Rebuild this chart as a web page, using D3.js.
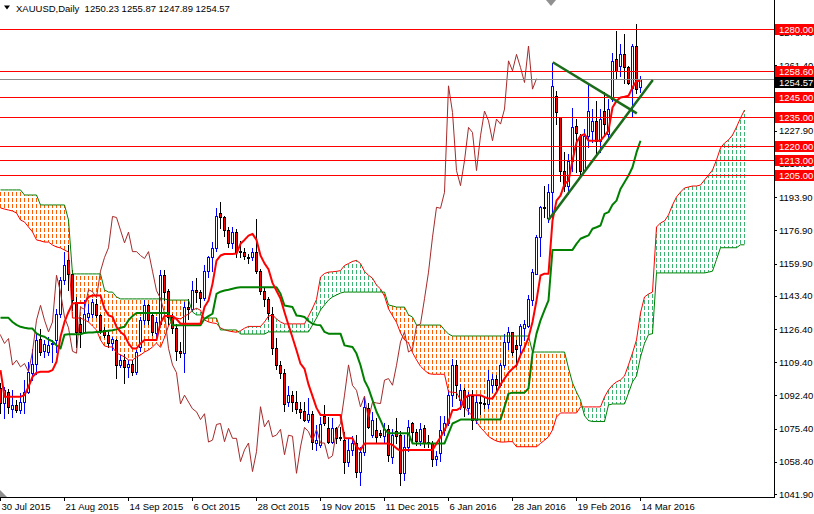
<!DOCTYPE html>
<html><head><meta charset="utf-8">
<script src="https://cdn.jsdelivr.net/npm/d3@7"></script>
<style>
html,body{margin:0;padding:0;background:#fff;}
svg{display:block;font-family:"Liberation Sans",Arial,sans-serif;}
</style></head><body>
<svg id="c" width="814" height="514"></svg>
<script>
// ---------------- data ----------------
const symbolName = "XAUUSD,Daily";
const lastQuote = [1250.23, 1255.87, 1247.89, 1254.57];
const dateTicks = [[0,"30 Jul 2015"],[16,"21 Aug 2015"],[32,"14 Sep 2015"],[48,"6 Oct 2015"],[64,"28 Oct 2015"],[80,"19 Nov 2015"],[96,"11 Dec 2015"],[112,"6 Jan 2016"],[128,"28 Jan 2016"],[144,"19 Feb 2016"],[160,"14 Mar 2016"]];
const priceTicks = [1041.9,1058.4,1075.4,1092.4,1109.4,1126.4,1143.4,1159.9,1176.9,1193.9,1210.9,1227.9,1261.4,1278.4];
const levels = [1280.00,1258.60,1245.00,1235.00,1220.00,1213.00,1205.00];
const bidPrice = 1254.57;

const open = [1096.0,1088.3,1094.0,1085.5,1087.4,1084.9,1089.1,1094.3,1104.0,1108.7,
1121.5,1115.0,1114.7,1118.6,1120.7,1134.3,1151.3,1161.5,1154.7,1140.2,
1129.2,1124.9,1132.6,1134.3,1139.4,1133.4,1125.8,1123.2,1119.0,1120.7,
1107.9,1110.4,1107.0,1108.7,1104.5,1117.0,1130.9,1138.5,1133.4,1124.1,
1129.2,1153.9,1146.1,1132.5,1127.0,1115.0,1114.0,1137.5,1136.5,1146.5,
1145.5,1142.5,1156.0,1163.0,1168.0,1186.0,1183.5,1177.0,1170.5,1176.0,
1166.5,1166.0,1163.5,1163.0,1166.0,1156.0,1146.0,1142.0,1134.0,1116.5,
1108.0,1104.0,1089.0,1092.5,1089.0,1085.5,1084.5,1080.0,1083.0,1068.0,
1067.0,1082.0,1075.5,1068.7,1075.5,1071.3,1069.5,1058.5,1064.5,1067.8,
1053.4,1063.6,1085.7,1072.1,1074.6,1072.9,1071.5,1075.0,1061.0,1074.0,
1072.0,1052.5,1066.0,1078.0,1073.8,1069.0,1075.5,1068.5,1068.0,1060.0,
1063.0,1074.5,1078.0,1092.5,1108.0,1090.0,1095.0,1086.0,1092.0,1080.0,
1089.0,1088.5,1088.0,1097.6,1101.0,1097.6,1108.0,1119.8,1124.9,1118.0,
1118.0,1127.0,1128.0,1141.0,1154.7,1173.4,1188.7,1183.0,1196.4,1245.8,
1234.7,1207.5,1199.8,1212.6,1230.5,1225.3,1207.5,1225.3,1228.0,1233.0,
1222.8,1238.0,1226.2,1244.0,1264.5,1261.1,1267.0,1260.3,1250.0,1271.3,
1250.23];
const high = [1098.5,1096.8,1095.5,1095.1,1090.0,1093.4,1100.2,1109.6,1116.4,1124.1,
1126.6,1120.7,1122.4,1120.7,1136.8,1153.0,1165.8,1169.2,1156.4,1142.8,
1132.6,1141.1,1139.4,1142.0,1142.0,1134.3,1127.5,1124.9,1122.4,1121.5,
1113.0,1113.8,1110.4,1110.4,1115.5,1132.6,1141.1,1139.4,1135.1,1132.6,
1156.4,1156.4,1147.0,1134.0,1129.0,1119.7,1140.0,1142.0,1151.0,1152.5,
1146.5,1159.0,1164.0,1171.0,1188.5,1191.5,1184.5,1178.5,1178.5,1177.5,
1171.5,1168.0,1165.0,1168.0,1182.5,1157.0,1148.0,1143.0,1137.5,1122.0,
1110.0,1106.0,1097.0,1094.5,1094.5,1089.0,1089.0,1091.0,1084.5,1077.0,
1081.5,1087.5,1081.5,1080.6,1076.3,1076.3,1073.8,1070.0,1071.5,1072.1,
1066.1,1091.7,1088.3,1084.0,1080.6,1074.6,1078.0,1077.0,1075.0,1081.0,
1074.0,1072.0,1080.0,1079.0,1075.0,1078.0,1077.0,1072.0,1069.0,1064.0,
1082.0,1082.0,1095.0,1111.0,1110.5,1098.0,1096.0,1094.0,1095.0,1092.0,
1092.0,1091.0,1105.3,1103.6,1103.0,1109.0,1124.0,1127.2,1125.0,1120.5,
1129.0,1130.8,1143.6,1157.2,1174.3,1189.6,1199.8,1200.6,1262.8,1248.3,
1234.7,1216.8,1216.0,1239.8,1233.9,1226.2,1228.7,1252.6,1239.0,1243.2,
1239.0,1247.5,1244.0,1267.9,1279.0,1272.2,1277.3,1261.0,1272.2,1282.4,
1255.87];
const low = [1083.2,1080.6,1083.2,1081.1,1084.0,1083.2,1083.2,1093.4,1100.2,1103.6,
1113.0,1112.1,1113.0,1109.6,1114.7,1132.6,1149.6,1146.2,1136.0,1117.2,
1117.2,1124.1,1130.9,1132.6,1132.6,1124.1,1122.4,1117.2,1115.5,1101.1,
1107.0,1098.5,1101.9,1102.8,1103.6,1115.0,1129.2,1129.2,1123.2,1122.4,
1128.3,1141.0,1129.1,1124.5,1110.5,1112.1,1104.5,1131.5,1135.5,1140.0,
1137.5,1141.0,1153.0,1156.0,1166.5,1178.0,1174.0,1168.5,1168.0,1163.0,
1163.0,1162.0,1160.0,1161.5,1155.0,1144.5,1138.0,1131.5,1113.5,1106.0,
1101.5,1084.5,1087.0,1084.5,1083.5,1081.0,1079.5,1079.0,1065.0,1064.5,
1066.0,1077.0,1067.8,1067.8,1067.8,1069.5,1052.5,1056.0,1062.0,1050.8,
1046.5,1062.0,1075.5,1071.3,1068.7,1071.2,1068.0,1059.0,1058.0,1068.0,
1046.7,1049.0,1064.0,1068.6,1067.0,1067.0,1066.0,1066.0,1056.0,1057.0,
1059.0,1072.0,1077.0,1087.0,1091.0,1085.5,1082.0,1083.0,1075.0,1078.0,
1083.0,1086.0,1086.0,1094.2,1094.0,1097.0,1106.8,1116.4,1113.0,1107.5,
1114.3,1120.5,1127.5,1138.5,1154.7,1164.0,1183.6,1181.0,1181.9,1231.3,
1202.3,1197.2,1195.5,1207.5,1206.6,1204.9,1206.6,1219.4,1222.0,1216.0,
1216.8,1226.2,1224.5,1243.2,1254.3,1256.0,1252.6,1251.7,1235.6,1247.1,
1247.89];
const close = [1088.3,1095.1,1086.6,1087.4,1084.9,1089.1,1094.3,1104.5,1108.7,1120.7,
1114.7,1118.5,1118.1,1119.0,1134.3,1151.3,1159.0,1154.7,1141.1,1124.9,
1124.9,1134.3,1134.6,1140.2,1133.4,1125.8,1123.2,1119.0,1121.5,1107.9,
1110.4,1107.0,1108.7,1104.5,1114.7,1130.9,1138.5,1130.9,1124.9,1130.0,
1153.9,1145.3,1132.5,1127.0,1115.0,1114.0,1137.5,1136.5,1146.5,1145.5,
1142.5,1156.0,1163.0,1168.0,1184.0,1183.5,1177.0,1170.5,1176.0,1166.0,
1166.0,1164.0,1162.5,1166.0,1156.0,1146.0,1142.0,1134.5,1116.5,1108.0,
1104.0,1088.0,1092.5,1089.0,1085.5,1084.0,1080.0,1083.0,1068.5,1069.5,
1077.5,1078.0,1068.7,1075.5,1070.4,1070.4,1058.5,1064.5,1068.0,1053.4,
1063.6,1086.6,1076.3,1079.7,1071.2,1072.1,1075.0,1062.0,1072.0,1071.5,
1052.5,1066.0,1076.0,1073.8,1069.0,1075.0,1068.0,1068.0,1060.0,1061.5,
1074.5,1078.0,1092.5,1108.0,1097.5,1095.0,1086.5,1092.0,1080.0,1089.0,
1088.5,1088.2,1100.2,1101.0,1097.6,1107.8,1119.8,1124.9,1114.6,1116.0,
1128.0,1129.0,1141.9,1155.5,1173.4,1188.7,1188.2,1196.4,1250.9,1237.3,
1207.5,1199.8,1212.6,1229.6,1227.0,1207.5,1225.3,1238.0,1233.0,1222.8,
1233.9,1231.3,1239.0,1263.7,1258.6,1267.0,1260.3,1252.6,1271.3,1249.2,
1254.57];

const tenkan = [1105.3,1091.7,1091.7,1091.7,1091.7,1091.7,1092.5,1096.8,1101.9,1104.0,
1104.5,1104.5,1104.5,1105.3,1109.6,1122.4,1130.0,1135.1,1139.4,1139.7,
1139.7,1139.7,1142.8,1143.6,1143.6,1143.6,1136.8,1133.4,1132.6,1127.5,
1124.9,1123.2,1119.0,1116.4,1116.4,1119.0,1120.7,1120.7,1120.7,1120.7,
1129.5,1133.0,1133.0,1133.0,1131.5,1129.1,1129.1,1129.1,1129.1,1129.1,
1129.1,1137.6,1141.0,1149.5,1161.4,1164.0,1164.8,1164.8,1164.8,1165.0,
1170.0,1172.0,1174.2,1175.1,1172.0,1164.0,1160.0,1157.0,1150.0,1146.0,
1142.0,1135.0,1128.4,1122.0,1115.5,1108.6,1106.0,1098.0,1092.0,1086.0,
1082.3,1082.3,1082.3,1082.3,1082.3,1082.3,1070.4,1070.4,1070.4,1066.1,
1064.4,1067.8,1067.8,1067.8,1067.8,1067.8,1067.8,1067.8,1067.0,1065.3,
1064.0,1064.4,1064.4,1064.4,1064.4,1064.4,1064.4,1064.4,1064.4,1067.8,
1071.0,1074.6,1079.0,1084.9,1084.9,1086.0,1090.8,1092.5,1092.5,1092.5,
1092.5,1091.5,1090.8,1090.8,1094.0,1098.0,1101.0,1104.0,1106.1,1107.8,
1113.0,1117.0,1122.0,1130.0,1141.0,1153.8,1154.7,1154.7,1181.9,1192.1,
1194.7,1200.6,1202.3,1212.6,1221.9,1225.3,1226.2,1222.8,1222.8,1222.8,
1222.8,1225.3,1228.0,1239.8,1243.2,1244.9,1245.3,1245.8,1250.0,1253.4,
1253.4];
const kijun = [1132.1,1132.1,1132.1,1130.0,1128.5,1127.5,1127.0,1126.6,1126.6,1124.1,
1123.0,1122.4,1121.0,1120.0,1118.1,1116.4,1123.5,1123.7,1123.7,1123.7,
1123.7,1124.4,1124.6,1124.6,1124.9,1124.9,1125.2,1125.5,1125.8,1126.2,
1127.0,1127.5,1130.9,1133.0,1134.6,1134.6,1134.6,1134.6,1134.6,1134.6,
1134.6,1134.6,1134.6,1128.3,1128.3,1128.3,1128.3,1128.3,1128.3,1128.3,
1128.3,1131.6,1133.0,1134.2,1144.4,1145.5,1146.1,1146.5,1147.0,1147.5,
1147.8,1147.8,1147.8,1147.8,1147.8,1147.8,1147.8,1147.8,1147.8,1147.8,
1144.4,1138.4,1138.0,1137.6,1133.3,1133.0,1132.5,1130.5,1129.1,1128.5,
1128.3,1124.9,1124.0,1124.0,1124.0,1124.0,1118.0,1117.6,1117.2,1113.8,
1107.8,1100.0,1096.0,1090.0,1084.0,1079.7,1075.0,1073.0,1073.0,1073.0,
1073.0,1073.0,1073.0,1067.8,1067.8,1067.8,1067.8,1067.8,1067.8,1067.8,
1067.8,1067.8,1072.9,1078.0,1079.0,1080.0,1080.0,1080.0,1080.0,1080.0,
1080.0,1080.0,1080.0,1080.0,1080.0,1080.0,1086.5,1093.3,1093.8,1093.8,
1093.8,1093.8,1096.0,1113.8,1124.0,1130.8,1136.0,1141.0,1166.9,1166.9,
1166.9,1166.9,1166.9,1166.9,1170.0,1172.6,1173.5,1174.3,1177.7,1178.5,
1179.4,1185.3,1186.2,1190.0,1192.1,1198.1,1201.5,1205.0,1209.2,1216.8,
1222.8];
const spanA = [1188.4,1187.8,1187.3,1186.8,1185.8,1182.2,1181.2,1178.6,1176.1,1172.0,
1171.5,1170.9,1170.9,1169.4,1168.4,1167.9,1166.8,1165.8,1132.0,1132.0,
1132.0,1131.0,1130.0,1127.9,1125.9,1120.8,1117.7,1117.2,1117.2,1114.1,
1113.1,1112.1,1110.5,1110.5,1112.1,1113.1,1114.6,1115.6,1117.2,1119.2,
1117.0,1122.0,1128.0,1131.0,1132.0,1131.5,1133.0,1134.0,1136.0,1137.0,
1136.0,1131.0,1130.0,1129.5,1129.2,1126.9,1126.0,1125.4,1125.0,1124.7,
1125.5,1126.8,1127.7,1127.7,1127.7,1127.7,1130.0,1133.0,1133.6,1131.5,
1130.0,1129.0,1129.0,1129.0,1129.0,1129.0,1129.0,1133.0,1137.0,1141.5,
1153.0,1154.8,1155.5,1155.7,1155.9,1156.3,1158.9,1159.9,1161.0,1161.5,
1159.9,1155.9,1153.9,1152.4,1148.9,1146.9,1143.2,1136.7,1133.2,1129.8,
1124.4,1120.8,1119.3,1114.3,1110.6,1107.3,1105.3,1103.6,1103.2,1103.2,
1103.2,1103.2,1094.2,1094.0,1093.8,1090.0,1086.1,1083.9,1081.9,1078.9,
1075.9,1073.8,1071.4,1070.0,1069.0,1068.5,1068.5,1068.7,1068.7,1066.1,
1066.1,1066.1,1066.1,1066.1,1066.1,1067.8,1069.4,1071.2,1074.7,1081.3,
1083.4,1083.4,1083.4,1083.4,1083.4,1086.5,1086.5,1086.5,1086.5,1086.5,
1086.5,1091.6,1095.2,1097.7,1099.3,1100.3,1102.3,1108.0,1114.1,1120.8,
1134.6,1142.8,1144.3,1145.3,1178.6,1180.7,1181.7,1184.8,1189.9,1194.0,
1196.5,1198.6,1199.1,1199.6,1199.6,1200.1,1202.7,1205.2,1207.8,1212.9,
1219.1,1221.6,1223.2,1225.7,1229.8,1234.4,1238.5];
const spanB = [1197.6,1197.6,1197.6,1197.6,1197.6,1197.6,1195.0,1195.0,1195.0,1195.0,
1189.9,1189.9,1189.9,1189.9,1189.9,1189.9,1189.9,1182.2,1154.6,1154.6,
1154.6,1154.6,1154.6,1154.6,1154.6,1154.6,1146.4,1145.3,1145.3,1142.8,
1141.8,1141.8,1141.8,1141.8,1141.8,1141.8,1141.8,1141.8,1141.8,1141.8,
1141.8,1141.8,1141.2,1141.2,1141.2,1141.2,1141.2,1141.2,1135.1,1133.6,
1133.6,1132.0,1132.0,1132.0,1132.0,1125.9,1125.9,1125.9,1125.9,1125.9,
1123.8,1123.8,1123.8,1123.8,1123.8,1123.8,1123.8,1124.9,1124.9,1124.9,
1124.9,1124.9,1124.9,1124.9,1124.9,1124.9,1124.9,1124.9,1128.4,1132.0,
1136.1,1138.7,1141.2,1142.8,1143.8,1144.8,1145.3,1145.3,1145.3,1145.3,
1145.3,1145.3,1145.3,1145.3,1145.3,1145.3,1145.3,1138.7,1138.2,1137.6,
1137.6,1137.6,1133.6,1132.5,1128.4,1128.4,1128.4,1128.4,1128.4,1128.4,
1128.4,1125.9,1123.8,1122.8,1122.8,1122.8,1122.8,1122.8,1122.8,1122.8,
1122.8,1122.8,1122.8,1122.8,1122.8,1122.8,1122.8,1122.8,1122.8,1122.8,
1122.8,1122.8,1122.8,1114.6,1114.6,1114.6,1114.6,1114.6,1114.6,1114.6,
1114.6,1114.6,1106.4,1098.8,1094.1,1090.0,1082.0,1079.5,1079.0,1079.0,
1079.0,1079.0,1087.5,1088.0,1088.0,1088.0,1088.0,1093.6,1099.3,1102.3,
1112.0,1119.0,1123.5,1124.0,1155.1,1155.1,1155.1,1155.1,1155.1,1155.1,
1155.1,1155.1,1155.1,1155.1,1155.1,1155.1,1155.1,1155.5,1156.0,1162.0,
1168.0,1168.0,1168.0,1168.0,1168.0,1169.5,1169.5];
const chikouShift = 26;
const trendDown = [[138.2,1263.0],[159.2,1236.8]];
const trendUp = [[137.1,1182.2],[163.2,1253.9]];

// ---------------- drawing ----------------
const W = 814, H = 514, plotR = 774, plotB = 497;
const svg = d3.select("#c");
svg.append("rect").attr("width",W).attr("height",H).attr("fill","#fff");

const x = d3.scaleLinear().domain([0,160]).range([0,640]);
const y = d3.scaleLinear().domain([1041.9,1280]).range([494,29]);
const px = v => Math.round(x(v)) + 0.5;
const py = v => Math.round(y(v)) + 0.5;

svg.append("defs").append("clipPath").attr("id","plot")
  .append("rect").attr("x",0).attr("y",0).attr("width",plotR).attr("height",plotB);
const g = svg.append("g").attr("clip-path","url(#plot)");

// cloud hatch
const cloud = spanA.map((a,i)=>({i,a,b:spanB[i]}));
g.append("g").selectAll("line").data(cloud).join("line")
  .attr("x1",d=>px(d.i)).attr("x2",d=>px(d.i))
  .attr("y1",d=>Math.round(Math.min(y(d.a),y(d.b))))
  .attr("y2",d=>Math.round(Math.max(y(d.a),y(d.b))))
  .attr("stroke",d=>d.a>=d.b?"#3CB371":"#FF5A00")
  .attr("stroke-width",1)
  .attr("stroke-dasharray","4,2")
  .attr("stroke-dashoffset",d=>Math.round(Math.min(y(d.a),y(d.b)))%6)
  .attr("shape-rendering","crispEdges");

// candles
const bars = close.map((c,i)=>({i,o:open[i],h:high[i],l:low[i],c}));
const cg = g.append("g").attr("shape-rendering","crispEdges");
cg.selectAll("line.w").data(bars).join("line").attr("class","w")
  .attr("x1",d=>px(d.i)).attr("x2",d=>px(d.i))
  .attr("y1",d=>Math.round(y(d.h))).attr("y2",d=>Math.round(y(d.l))+1)
  .attr("stroke",d=>d.c>d.o?"#0000FF":"#000");
cg.selectAll("rect.b").data(bars.filter(d=>Math.abs(Math.round(y(d.o))-Math.round(y(d.c)))>=1)).join("rect").attr("class","b")
  .attr("x",d=>px(d.i)-1).attr("width",2)
  .attr("y",d=>Math.round(y(Math.max(d.o,d.c)))+0.5)
  .attr("height",d=>Math.abs(Math.round(y(d.o))-Math.round(y(d.c))))
  .attr("fill",d=>d.c>d.o?"#fff":"#FF0000")
  .attr("stroke",d=>d.c>d.o?"#0000FF":"#000").attr("stroke-width",1);
cg.selectAll("line.d").data(bars.filter(d=>Math.abs(Math.round(y(d.o))-Math.round(y(d.c)))<1)).join("line").attr("class","d")
  .attr("x1",d=>px(d.i)-1.5).attr("x2",d=>px(d.i)+1.5)
  .attr("y1",d=>py(d.c)).attr("y2",d=>py(d.c)).attr("stroke","#000");

// indicator lines
const line = d3.line().x(d=>x(d[0])+0.5).y(d=>y(d[1]));
const addLine = (pts,color,w)=>g.append("path").attr("d",line(pts)).attr("fill","none")
  .attr("stroke",color).attr("stroke-width",w).attr("stroke-linejoin","round");
addLine(spanA.map((v,i)=>[i,v]),"#FF0000",1);
addLine(spanB.map((v,i)=>[i,v]),"#008000",1);
addLine(close.map((v,i)=>[i-chikouShift,v]),"#A52A2A",1);
addLine(kijun.map((v,i)=>[i,v]),"#008000",2);
addLine(tenkan.map((v,i)=>[i,v]),"#FF0000",2);

// horizontal levels and bid line
g.selectAll("line.lv").data(levels).join("line").attr("class","lv")
  .attr("x1",0).attr("x2",plotR).attr("y1",d=>py(d)).attr("y2",d=>py(d))
  .attr("stroke","#FF0000").attr("stroke-width",1).attr("shape-rendering","crispEdges");
g.append("line").attr("x1",0).attr("x2",plotR).attr("y1",py(bidPrice)).attr("y2",py(bidPrice))
  .attr("stroke","#8C8C8C").attr("stroke-width",1).attr("shape-rendering","crispEdges");

// trend lines
[trendDown,trendUp].forEach(t=>{
  g.append("line").attr("x1",x(t[0][0])).attr("y1",y(t[0][1]))
   .attr("x2",x(t[1][0])).attr("y2",y(t[1][1]))
   .attr("stroke","#1A6B1A").attr("stroke-width",2.5);
});

// axes
const fmt = d3.format(".2f");
const yAxis = svg.append("g").attr("transform",`translate(${plotR},0)`)
  .call(d3.axisRight(y).tickValues(priceTicks).tickFormat(fmt).tickSize(3).tickPadding(2));
yAxis.select(".domain").remove();
yAxis.selectAll("text").attr("font-size","9.5px").attr("fill","#000").attr("font-family","Liberation Sans, Arial, sans-serif");
yAxis.selectAll("line").attr("stroke","#000").attr("shape-rendering","crispEdges");

const xAxis = svg.append("g").attr("transform",`translate(0,${plotB})`)
  .call(d3.axisBottom(x).tickValues(dateTicks.map(d=>d[0])).tickFormat((d,k)=>dateTicks[k][1]).tickSize(4).tickPadding(2));
xAxis.select(".domain").remove();
xAxis.selectAll("text").attr("text-anchor","start").attr("dx","1").attr("font-size","9.5px").attr("fill","#000").attr("font-family","Liberation Sans, Arial, sans-serif");
xAxis.selectAll("line").attr("stroke","#000").attr("shape-rendering","crispEdges");

svg.append("line").attr("x1",plotR+0.5).attr("x2",plotR+0.5).attr("y1",0).attr("y2",plotB+1)
  .attr("stroke","#000").attr("shape-rendering","crispEdges");
svg.append("line").attr("x1",0).attr("x2",plotR+1).attr("y1",plotB+0.5).attr("y2",plotB+0.5)
  .attr("stroke","#000").attr("shape-rendering","crispEdges");

// price labels (stacked so they do not overlap each other)
const lab = svg.append("g");
const tags = levels.map(v=>({v,bg:"#FF0000"})).concat([{v:bidPrice,bg:"#000"}])
  .sort((a,b)=>b.v-a.v);
let lastBottom = -Infinity;
tags.forEach(t=>{
  let top = Math.round(y(t.v)) - 5;
  if (top < lastBottom) top = lastBottom;
  lastBottom = top + 11;
  lab.append("rect").attr("x",plotR+1).attr("y",top).attr("width",W-plotR-1).attr("height",11).attr("fill",t.bg);
  lab.append("text").attr("x",plotR+5).attr("y",top+9).attr("font-size","9.5px").attr("fill","#fff").text(fmt(t.v));
});

// title
svg.append("path").attr("d","M4,5.5L10,5.5L7,9.5Z").attr("fill","#000");
svg.append("text").attr("x",16).attr("y",12).attr("font-size","9.5px").attr("fill","#000")
  .style("white-space","pre").text(symbolName + "  " + lastQuote.map(fmt).join(" "));

// chart-shift markers
svg.append("path").attr("d","M546,0L556,0L551,6Z").attr("fill","#909090");
svg.append("path").attr("d","M0,490L0,497L7,497Z").attr("fill","#909090");
</script>
</body></html>
